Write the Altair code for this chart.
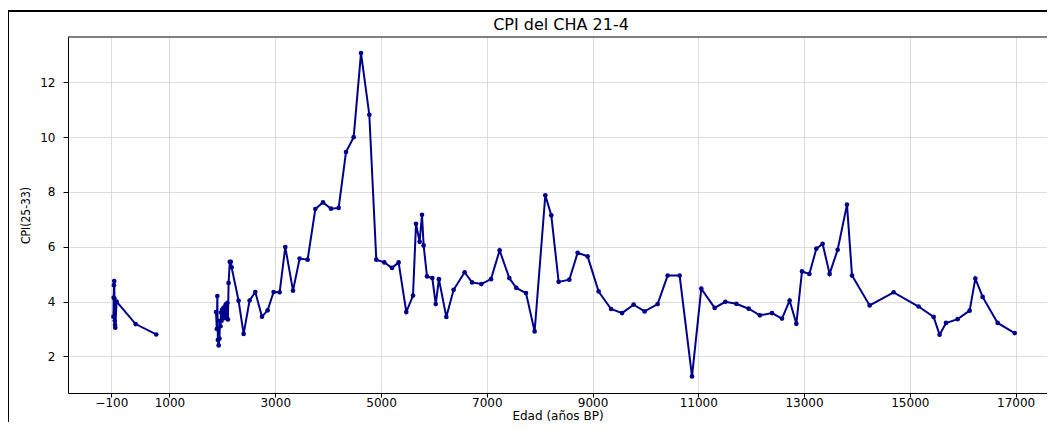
import altair as alt
import pandas as pd

# Segment 1 (recent ages, near 0 BP)
ages_a = [-60, -55, -50, -45, -40, -35, -30, -25, 0, 360, 750]
cpi_a = [3.45, 4.15, 4.6, 4.75, 4.1, 3.3, 3.15, 3.05, 4.0, 3.18, 2.8]

# Segment 2 (1880 - 17000 BP)
ages_b = [1880, 1895, 1905, 1915, 1930, 1945, 1955, 1965, 1975, 1985, 1995, 2005,
          2015, 2025, 2040, 2050, 2065, 2080, 2095, 2105, 2118, 2140, 2160, 2175,
          2307, 2402, 2515, 2623, 2749, 2856, 2969, 3083, 3190, 3336, 3461, 3612,
          3758, 3903, 4054, 4199, 4338, 4483, 4622, 4779, 4911, 5062, 5208, 5333,
          5478, 5605, 5662, 5730, 5775, 5806, 5870, 5970, 6035, 6095, 6235, 6373,
          6581, 6721, 6897, 7080, 7243, 7426, 7559, 7742, 7905, 8107, 8220, 8359,
          8561, 8718, 8907, 9115, 9350, 9558, 9777, 9985, 10231, 10420, 10647,
          10881, 11057, 11309, 11511, 11719, 11952, 12165, 12394, 12583, 12727,
          12854, 12961, 13100, 13232, 13351, 13483, 13635, 13812, 13907, 14240,
          14694, 15166, 15450, 15563, 15684, 15904, 16131, 16239, 16377, 16661,
          16983]
cpi_b = [3.62, 3.0, 4.2, 2.6, 2.4, 2.65, 3.3, 3.1, 3.6, 3.3, 3.7, 3.4,
         3.75, 3.45, 3.8, 3.4, 3.9, 3.45, 3.95, 3.35, 4.68, 5.45, 5.45, 5.25,
         4.03, 2.82, 4.04, 4.35, 3.45, 3.68, 4.35, 4.34, 5.99, 4.40, 5.57, 5.53,
         7.38, 7.62, 7.39, 7.42, 9.46, 10.0, 13.07, 10.82, 5.53, 5.43, 5.23, 5.43,
         3.62, 4.22, 6.84, 6.18, 7.17, 6.05, 4.92, 4.86, 3.91, 4.82, 3.44, 4.43,
         5.07, 4.70, 4.64, 4.82, 5.87, 4.86, 4.50, 4.31, 2.91, 7.88, 7.15, 4.72,
         4.80, 5.78, 5.65, 4.37, 3.73, 3.58, 3.89, 3.64, 3.91, 4.95, 4.95,
         1.27, 4.47, 3.77, 3.99, 3.92, 3.74, 3.50, 3.58, 3.38, 4.04,
         3.19, 5.10, 5.01, 5.93, 6.11, 5.01, 5.89, 7.54, 4.95, 3.86,
         4.34, 3.82, 3.44, 2.79, 3.22, 3.36, 3.67, 4.84, 4.17, 3.22,
         2.85]

x_ticks = [-100, 1000, 3000, 5000, 7000, 9000, 11000, 13000, 15000, 17000]
y_ticks = [2, 4, 6, 8, 10, 12]
title_text = ["CPI del CHA 21-4"]

df = pd.DataFrame({
    "edad": ages_a + ages_b,
    "cpi": cpi_a + cpi_b,
    "seg": ["a"] * len(ages_a) + ["b"] * len(ages_b),
})

COLOR = "#00008b"
W, H = 979, 356

x_enc = alt.X("edad:Q",
              scale=alt.Scale(domain=[-919, 17594], nice=False, zero=False),
              axis=alt.Axis(values=x_ticks, format="d", title="Edad (años BP)",
                            titleY=26, titleBaseline="alphabetic"))
y_enc = alt.Y("cpi:Q",
              scale=alt.Scale(domain=[0.664, 13.657], nice=False, zero=False),
              axis=alt.Axis(values=y_ticks, format="d", title="CPI(25-33)"))

base = alt.Chart(df)
line = base.mark_line(color=COLOR, strokeWidth=2).encode(
    x=x_enc, y=y_enc, detail="seg:N", order="edad:Q")
pts = base.mark_circle(color=COLOR, size=22, opacity=1).encode(x="edad:Q", y="cpi:Q")

one = pd.DataFrame({"t": title_text})
top_spine = alt.Chart(one).mark_rule(color="black", strokeWidth=1).encode(
    x=alt.value(0), x2=alt.value(W + 20), y=alt.value(0))
frame = alt.Chart(one).mark_rect(
    fill="transparent", stroke="black", strokeWidth=2
).encode(x=alt.value(-60), x2=alt.value(1300), y=alt.value(-26), y2=alt.value(600))
title = alt.Chart(one).mark_text(
    font="DejaVu Sans", fontSize=16, color="black", align="center", baseline="alphabetic"
).encode(text="t:N", x=alt.value(493), y=alt.value(-7))

chart = alt.layer(line, pts, top_spine, frame, title).properties(
    width=W, height=H,
    autosize=alt.AutoSizeParams(type="none"),
    padding={"left": 60, "top": 29, "right": 0, "bottom": 29},
).configure_view(
    stroke=None
).configure_axis(
    domain=True, domainColor="black", domainWidth=1,
    grid=True, gridColor="#dcdcdc", gridWidth=1,
    tickColor="black", tickSize=5, tickWidth=1,
    labelFont="DejaVu Sans", labelColor="black",
    titleFont="DejaVu Sans", titleColor="black", titleFontWeight="normal",
).configure_axisX(
    labelFontSize=12, labelPadding=0, tickSize=4, titleFontSize=12,
).configure_axisY(
    labelFontSize=12, labelPadding=8,
    titleFont="Liberation Sans Narrow, DejaVu Sans Condensed, Liberation Sans",
    titleFontSize=12, titlePadding=7,
)

chart.save("out.html", embed_options={"renderer": "svg", "actions": False})
